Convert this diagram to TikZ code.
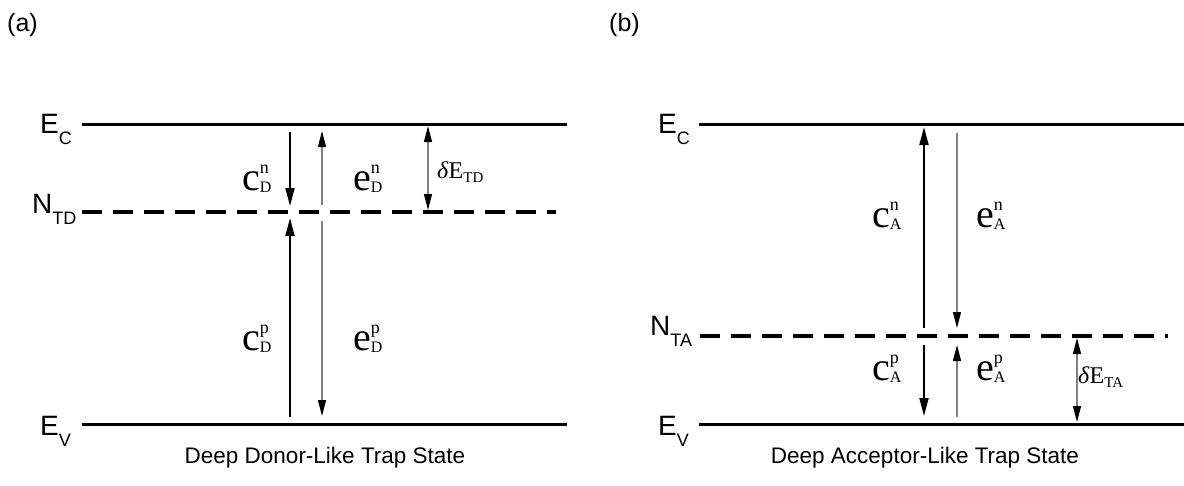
\documentclass[tikz,border=0pt]{standalone}
\usepackage{fontspec}
\setmainfont{Liberation Serif}
\newfontfamily\sansf{Liberation Sans}
\usetikzlibrary{arrows.meta}
\newcommand{\rlab}[3]{{\fontsize{40}{40}\selectfont #1}\rlap{\raisebox{17pt}{\fontsize{18}{18}\selectfont #2}}\raisebox{-2pt}{\fontsize{16}{16}\selectfont #3}}
\newcommand{\dlab}[1]{{\fontsize{24}{24}\selectfont \textit{δ}E}\raisebox{-4pt}{\fontsize{15}{15}\selectfont #1}}
\newcommand{\slab}[2]{{\sansf\fontsize{28}{28}\selectfont #1\raisebox{-11pt}{\fontsize{18}{18}\selectfont #2}}}
\tikzset{
  lvl/.style={line width=3pt},
  trap/.style={line width=3.5pt, dash pattern=on 20pt off 11pt},
  blk/.style={line width=1.8pt, -{Triangle[length=18pt,width=9pt]}},
  gry/.style={draw=black!50, line width=1.2pt, -{Triangle[length=16pt,width=8pt,color=black]}},
  dbl/.style={draw=black!50, line width=1.2pt, {Triangle[length=16pt,width=8pt,color=black]}-{Triangle[length=16pt,width=8pt,color=black]}},
  txt/.style={inner sep=0pt, anchor=base west},
  captxt/.style={inner sep=0pt, anchor=base, font=\sansf\fontsize{22.5}{22.5}\selectfont},
}
\begin{document}
\begin{tikzpicture}[x=1pt,y=-1pt]
\useasboundingbox (0,0) rectangle (1184,485);
% panel labels
\node[txt, font=\sansf\fontsize{25}{25}\selectfont] (pa) at (7,31) {(a)};
\node[txt, font=\sansf\fontsize{25}{25}\selectfont] (pb) at (609,31) {(b)};
% ---------- left panel ----------
\coordinate (ecl1) at (82,124); \coordinate (ecl2) at (567,124);
\coordinate (nl1) at (82,212); \coordinate (nl2) at (556,212);
\coordinate (evl1) at (82,424); \coordinate (evl2) at (567,424);
\draw[lvl] (ecl1) -- (ecl2);
\draw[trap] (nl1) -- (nl2);
\draw[lvl] (evl1) -- (evl2);
\node[txt] (lec) at (40,133) {\slab{E}{C}};
\node[txt] (lnt) at (32,213) {\slab{N}{TD}};
\node[txt] (lev) at (40,435) {\slab{E}{V}};
\coordinate (a1s) at (290,132); \coordinate (a1e) at (290,206);
\coordinate (a2s) at (290,417); \coordinate (a2e) at (290,218);
\coordinate (a3s) at (322,205); \coordinate (a3e) at (322,131);
\coordinate (a4s) at (322,221); \coordinate (a4e) at (322,416);
\coordinate (a5s) at (428,126); \coordinate (a5e) at (428,210);
\draw[blk] (a1s) -- (a1e);
\draw[blk] (a2s) -- (a2e);
\draw[gry] (a3s) -- (a3e);
\draw[gry] (a4s) -- (a4e);
\draw[dbl] (a5s) -- (a5e);
\node[txt] (cdn) at (242,190) {\rlab{c}{n}{D}};
\node[txt] (edn) at (353,190) {\rlab{e}{n}{D}};
\node[txt] (cdp) at (242,350) {\rlab{c}{p}{D}};
\node[txt] (edp) at (353,350) {\rlab{e}{p}{D}};
\node[txt] (det) at (437,178) {\dlab{TD}};
\node[captxt] (capa) at (325,463) {Deep Donor-Like Trap State};
% ---------- right panel ----------
\coordinate (ecr1) at (699,124); \coordinate (ecr2) at (1184,124);
\coordinate (nr1) at (700,336); \coordinate (nr2) at (1168,336);
\coordinate (evr1) at (699,424); \coordinate (evr2) at (1184,424);
\draw[lvl] (ecr1) -- (ecr2);
\draw[trap] (nr1) -- (nr2);
\draw[lvl] (evr1) -- (evr2);
\node[txt] (rec) at (658,133) {\slab{E}{C}};
\node[txt] (rnt) at (650,335) {\slab{N}{TA}};
\node[txt] (rev) at (658,435) {\slab{E}{V}};
\coordinate (b1s) at (924,328); \coordinate (b1e) at (924,127);
\coordinate (b2s) at (957,133); \coordinate (b2e) at (957,328);
\coordinate (b3s) at (924,345); \coordinate (b3e) at (924,416);
\coordinate (b4s) at (957,417); \coordinate (b4e) at (957,345);
\coordinate (b5s) at (1077,338); \coordinate (b5e) at (1077,422);
\draw[blk] (b1s) -- (b1e);
\draw[gry] (b2s) -- (b2e);
\draw[blk] (b3s) -- (b3e);
\draw[gry] (b4s) -- (b4e);
\draw[dbl] (b5s) -- (b5e);
\node[txt] (can) at (872,227) {\rlab{c}{n}{A}};
\node[txt] (ean) at (976,227) {\rlab{e}{n}{A}};
\node[txt] (cap) at (872,380) {\rlab{c}{p}{A}};
\node[txt] (eap) at (976,380) {\rlab{e}{p}{A}};
\node[txt] (dea) at (1078,383) {\dlab{TA}};
\node[captxt] (capb) at (925,463) {Deep Acceptor-Like Trap State};
\end{tikzpicture}
\end{document}
